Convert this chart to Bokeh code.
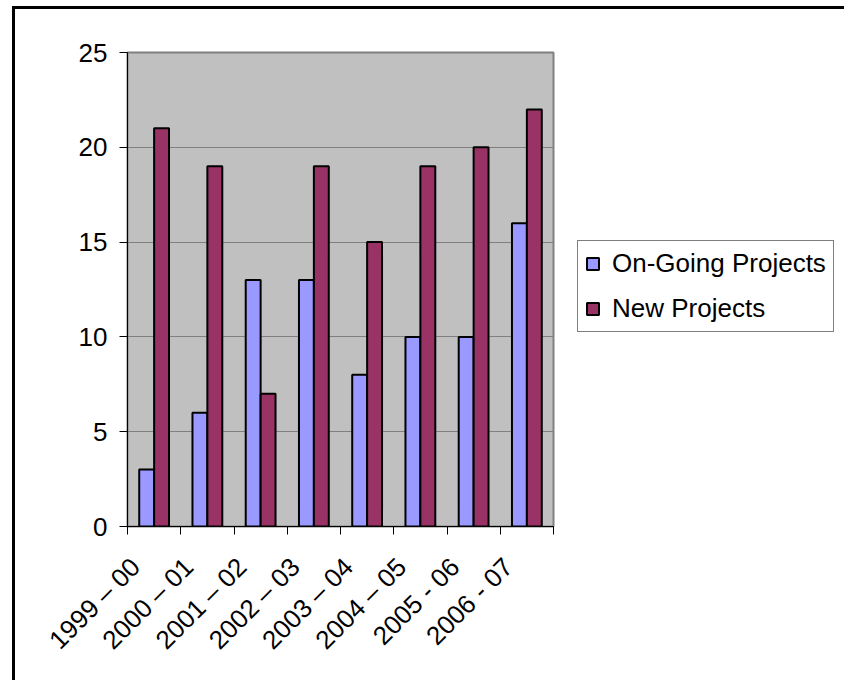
import numpy as np
from bokeh.plotting import figure
from bokeh.layouts import row
from bokeh.models import (ColumnDataSource, FixedTicker, Legend, LegendItem,
                          Range1d)
from bokeh.embed import file_html
from bokeh.resources import INLINE

# Project counts per financial year
periods = ["1999 – 00", "2000 – 01", "2001 – 02", "2002 – 03",
           "2003 – 04", "2004 – 05", "2005 - 06", "2006 - 07"]
ongoing = [3, 6, 13, 13, 8, 10, 10, 16]
new = [21, 19, 7, 19, 15, 19, 20, 22]
y_ticks = [0, 5, 10, 15, 20, 25]
series_names = ["On-Going Projects", "New Projects"]

FONT = "Liberation Sans"
BLUE = "#9999FF"
PLUM = "#993366"

n = len(periods)
centers = np.arange(n) + 0.5
bar_w = 0.28
label_shift = 0.35   # rotated labels end a little left of the category centre

src = ColumnDataSource(dict(
    x_on=centers - bar_w / 2,
    x_new=centers + bar_w / 2,
    ongoing=ongoing,
    new=new,
))

# page geometry: a black frame line on the top and left edges
W, H = 844, 680
OFF_X, OFF_Y = 12, 6
BW = 3
X0, Y0 = OFF_X + BW, OFF_Y + BW          # where the chart content starts
FRAME_L, FRAME_R, FRAME_T, FRAME_B = 127, 553, 52, 526

chart_w = FRAME_R - X0 + 10
inner_h = H - Y0

p = figure(width=chart_w, height=inner_h,
           output_backend="svg", toolbar_location=None,
           x_range=Range1d(0, n), y_range=Range1d(0, 25),
           min_border_left=FRAME_L - X0, min_border_right=10,
           min_border_top=FRAME_T - Y0, min_border_bottom=H - FRAME_B)
p.background_fill_color = "#C0C0C0"
p.border_fill_color = "white"
p.outline_line_color = "#808080"
p.outline_line_width = 2

bar_style = dict(line_color="black", line_width=2)
r_on = p.vbar(x="x_on", top="ongoing", width=bar_w, source=src,
              fill_color=BLUE, **bar_style)
r_new = p.vbar(x="x_new", top="new", width=bar_w, source=src,
               fill_color=PLUM, **bar_style)

# y axis
p.yaxis.ticker = FixedTicker(ticks=y_ticks)
p.yaxis.major_tick_in = 0
p.yaxis.major_tick_out = 8
p.yaxis.minor_tick_line_color = None
p.yaxis.axis_line_color = "black"
p.yaxis.major_label_text_font = FONT
p.yaxis.major_label_text_font_size = "26px"
p.yaxis.major_label_text_color = "black"
p.yaxis.major_label_standoff = 12

# x axis: tick marks at category boundaries, rotated labels near the centres
label_pos = centers - label_shift
p.xaxis.ticker = FixedTicker(ticks=list(label_pos),
                             minor_ticks=list(np.arange(n + 1)))
p.xaxis.major_label_overrides = {float(c): lab for c, lab in zip(label_pos, periods)}
p.xaxis.major_tick_line_color = None
p.xaxis.minor_tick_in = 0
p.xaxis.minor_tick_out = 8
p.xaxis.minor_tick_line_color = "black"
p.xaxis.axis_line_color = "black"
p.xaxis.major_label_orientation = np.pi / 4
p.xaxis.major_label_text_font = FONT
p.xaxis.major_label_text_font_size = "26px"
p.xaxis.major_label_text_color = "black"
p.xaxis.major_label_standoff = 28

p.xgrid.grid_line_color = None
p.ygrid.ticker = FixedTicker(ticks=y_ticks)
p.ygrid.grid_line_color = "#808080"
p.ygrid.grid_line_width = 1

# legend panel to the right of the chart; its frame lines up with the chart's
leg_w = W - X0 - chart_w
q = figure(width=leg_w, height=inner_h, output_backend="svg",
           toolbar_location=None, x_axis_type=None, y_axis_type=None,
           min_border=0, x_range=Range1d(0, 1), y_range=Range1d(0, 1))
q.outline_line_color = None
q.border_fill_color = "white"
q.background_fill_color = "white"
# key swatches: small bars tucked under the opaque legend box
key_on = q.vbar(x=[0.45], bottom=[0.47], top=[0.53], width=0.05,
                fill_color=BLUE, **bar_style)
key_new = q.vbar(x=[0.55], bottom=[0.47], top=[0.53], width=0.05,
                 fill_color=PLUM, **bar_style)

LEG_L, LEG_B = 577, 332
legend = Legend(items=[LegendItem(label=series_names[0], renderers=[key_on]),
                       LegendItem(label=series_names[1], renderers=[key_new])],
                location=(LEG_L - X0 - chart_w, FRAME_B - LEG_B))
legend.label_text_font = FONT
legend.label_text_font_size = "26px"
legend.label_text_color = "black"
legend.label_height = 24
legend.glyph_width = 15
legend.glyph_height = 15
legend.label_standoff = 12
legend.padding = 7
legend.spacing = 14
legend.margin = 0
legend.border_line_color = "black"
legend.border_line_width = 1
legend.background_fill_color = "white"
legend.background_fill_alpha = 1
q.add_layout(legend, "center")

page = row(p, q, spacing=0)
page.margin = (OFF_Y, 0, 0, OFF_X)
page.styles = {"border-top": f"{BW}px solid black",
               "border-left": f"{BW}px solid black"}

open("out.html", "w").write(file_html(page, INLINE))
